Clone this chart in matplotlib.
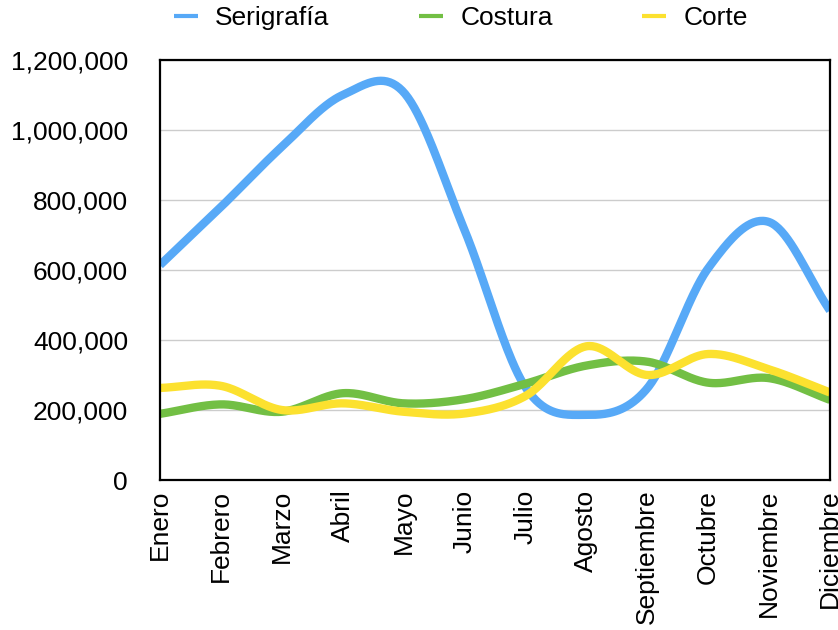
import numpy as np
import matplotlib
matplotlib.use("Agg")
import matplotlib.pyplot as plt
from matplotlib.ticker import FuncFormatter, MultipleLocator

months = ["Enero", "Febrero", "Marzo", "Abril", "Mayo", "Junio", "Julio",
          "Agosto", "Septiembre", "Octubre", "Noviembre", "Diciembre"]
serigrafia = [614000, 780000, 952000, 1100000, 1108000, 714000, 265000,
              186000, 262000, 605000, 737000, 484000]
costura = [189000, 216000, 195000, 248000, 219000, 231000, 275000,
           327000, 338000, 278000, 291000, 229000]
corte = [263000, 269000, 200000, 219000, 195000, 190000, 240000,
         382000, 300000, 360000, 316000, 250000]

series = [("Serigrafía", serigrafia, "#57a9f7"),
          ("Costura", costura, "#72bf44"),
          ("Corte", corte, "#fce12f")]

plt.rcParams['font.family'] = ['Liberation Sans', 'DejaVu Sans']


def smooth(y, n=40, k=0.5):
    y = np.asarray(y, dtype=float)
    x = np.arange(len(y), dtype=float)
    m = np.zeros_like(y)
    m[1:-1] = (y[2:] - y[:-2]) * k
    m[0] = (y[1] - y[0]) * 2 * k
    m[-1] = (y[-1] - y[-2]) * 2 * k
    xs, ys = [], []
    for i in range(len(y) - 1):
        t = np.linspace(0, 1, n, endpoint=(i == len(y) - 2))
        h00 = 2 * t**3 - 3 * t**2 + 1
        h10 = t**3 - 2 * t**2 + t
        h01 = -2 * t**3 + 3 * t**2
        h11 = t**3 - t**2
        xs.append(x[i] + t)
        ys.append(h00 * y[i] + h10 * m[i] + h01 * y[i + 1] + h11 * m[i + 1])
    return np.concatenate(xs), np.concatenate(ys)


fig = plt.figure(figsize=(8.38, 6.30), dpi=100)
ax = fig.add_axes([160 / 838, 1 - 480 / 630, 670 / 838, 420 / 630])

for name, vals, col in series:
    xs, ys = smooth(vals)
    ax.plot(xs, ys, color=col, lw=6, label=name, solid_capstyle='butt',
            solid_joinstyle='round')

ax.set_xlim(0, len(months) - 1)
ax.set_ylim(0, 1200000)
ax.yaxis.set_major_locator(MultipleLocator(200000))
ax.yaxis.set_major_formatter(FuncFormatter(lambda v, p: f"{int(v):,}"))
ax.set_xticks(range(len(months)))
ax.set_xticklabels(months, rotation=90, va='top', ha='center')
ax.tick_params(axis='both', length=0, labelsize=19)
ax.tick_params(axis='y', pad=23)
ax.tick_params(axis='x', pad=7)
ax.grid(axis='y', color='#cccccc', lw=1)
ax.set_axisbelow(True)
for s in ax.spines.values():
    s.set_color('black')
    s.set_linewidth(1.6)
    s.set_zorder(5)

handles, labels = ax.get_legend_handles_labels()
leg = fig.legend(handles, labels, loc='center', ncol=3,
                 bbox_to_anchor=(461 / 838, 1 - 18 / 630), frameon=False,
                 fontsize=19, handlelength=0.9, handletextpad=0.65,
                 columnspacing=3.4)
for lh in leg.get_lines():
    lh.set_linewidth(3)

fig.savefig("out.png", dpi=100)
